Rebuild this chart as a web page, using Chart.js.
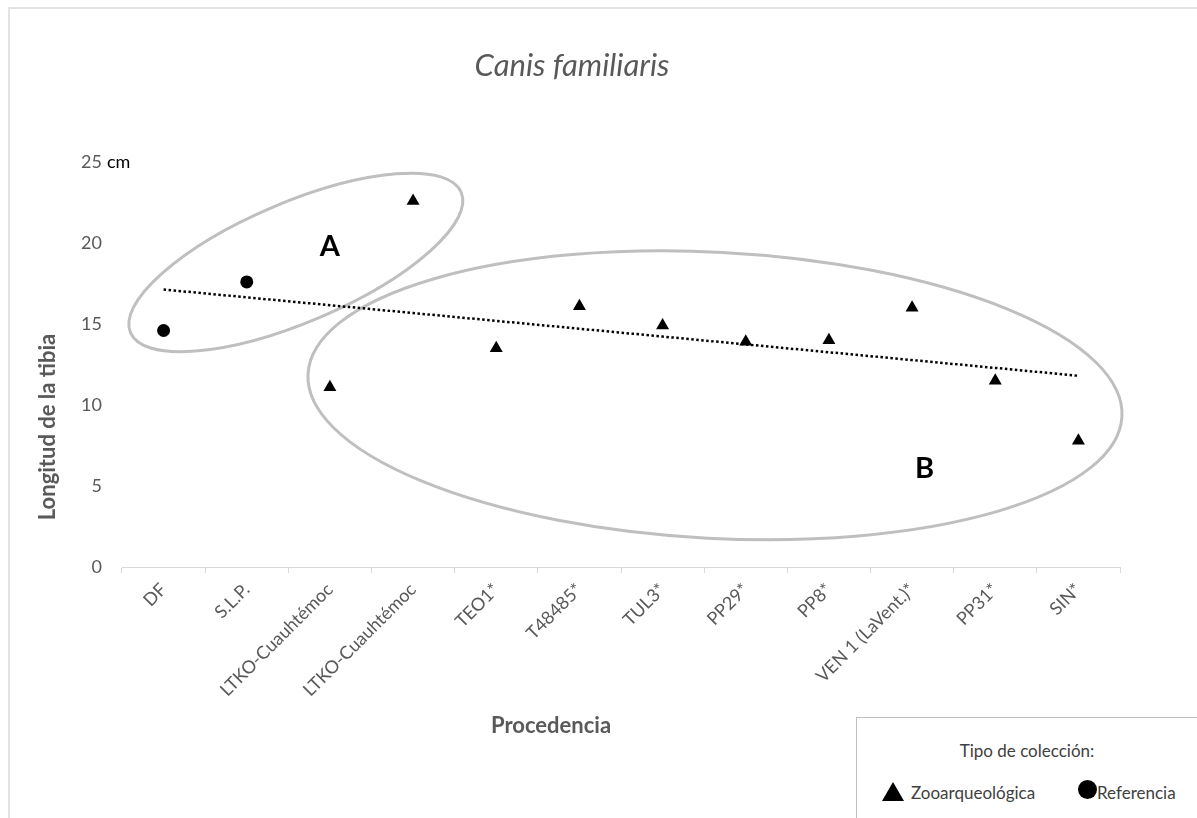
<!DOCTYPE html>
<html lang="es">
<head>
    <meta charset="UTF-8">
    <title>Canis familiaris</title>
    <script src="https://cdn.jsdelivr.net/npm/chart.js"></script>
    <style>
        html, body { margin: 0; padding: 0; background: #fff; overflow: hidden; }
        #wrap { position: relative; width: 1197px; height: 818px; font-family: Lato, "Open Sans", sans-serif; }
        #frame { position: absolute; left: 8px; top: 7px; width: 1300px; height: 900px; border: 2px solid #e3e3e3; box-sizing: border-box; }
        #chart { position: absolute; left: 0; top: 0; }
        #legend { position: absolute; left: 856px; top: 717px; width: 400px; height: 200px; border: 1.5px solid #bfbfbf; background: #fff; }
        #legend .ttl { position: absolute; left: 0; width: 340px; top: 22px; text-align: center; font-size: 17px; color: #404040; }
        #legend .item { position: absolute; top: 64px; font-size: 17px; color: #404040; }
        .tri { position: absolute; width: 0; height: 0; border-left: 11px solid transparent; border-right: 11px solid transparent; border-bottom: 19px solid #000; }
        .dot { position: absolute; width: 19px; height: 19px; border-radius: 50%; background: #000; }
    </style>
</head>
<body>
<div id="wrap">
    <div id="frame"></div>
    <canvas id="chart" width="1197" height="818"></canvas>
    <div id="legend">
        <div class="ttl">Tipo de colección:</div>
        <div class="tri" style="left:25px; top:64px;"></div>
        <div class="item" style="left:54px;">Zooarqueológica</div>
        <div class="dot" style="left:221px; top:62px;"></div>
        <div class="item" style="left:240px;">Referencia</div>
    </div>
</div>

<script>
    // categories and values (cm)
    const categories = ['DF', 'S.L.P.', 'LTKO-Cuauhtémoc', 'LTKO-Cuauhtémoc', 'TEO1*', 'T48485*', 'TUL3*', 'PP29*', 'PP8*', 'VEN 1 (LaVent.)*', 'PP31*', 'SIN*'];
    const zooarqueologica = [null, null, 11.1, 22.6, 13.5, 16.1, 14.9, 13.9, 14.0, 16.0, 11.5, 7.8];
    const referencia = [14.6, 17.6, null, null, null, null, null, null, null, null, null, null];
    const yTicks = [0, 5, 10, 15, 20, 25];

    // groups drawn as ellipses: center (category index, value), radii in category widths, angle in degrees
    const groups = [
        { label: 'A', cx: 1.59, cy: 18.8, rx: 2.16, ry: 0.72, rot: -23, lx: 2.0, ly: 19.75 },
        { label: 'B', cx: 6.63, cy: 10.6, rx: 4.9, ry: 1.72, rot: 3, lx: 9.15, ly: 6.1 }
    ];

    // linear trend over all points
    const allVals = categories.map((c, i) => zooarqueologica[i] !== null ? zooarqueologica[i] : referencia[i]);
    const n = allVals.length;
    const mx = (n - 1) / 2;
    const my = allVals.reduce((a, b) => a + b, 0) / n;
    let sxy = 0, sxx = 0;
    allVals.forEach((v, i) => { sxy += (i - mx) * (v - my); sxx += (i - mx) * (i - mx); });
    const slope = sxy / sxx;
    const trend = allVals.map((v, i) => my + slope * (i - mx));

    const grey = '#595959';
    const fontFam = 'Lato, "Open Sans", sans-serif';

    const extras = {
        id: 'extras',
        beforeDatasetsDraw(chart) {
            const { ctx, scales: { x, y } } = chart;
            const cw = x.width / categories.length;
            ctx.save();
            ctx.strokeStyle = '#bfbfbf';
            ctx.lineWidth = 3;
            groups.forEach(g => {
                ctx.beginPath();
                ctx.ellipse(x.getPixelForValue(g.cx), y.getPixelForValue(g.cy), g.rx * cw, g.ry * cw, g.rot * Math.PI / 180, 0, Math.PI * 2);
                ctx.stroke();
            });
            ctx.fillStyle = '#000';
            ctx.font = 'bold 29px ' + fontFam;
            ctx.textAlign = 'center';
            ctx.textBaseline = 'middle';
            groups.forEach(g => {
                ctx.fillText(g.label, x.getPixelForValue(g.lx), y.getPixelForValue(g.ly));
            });
            ctx.restore();
        },
        afterDraw(chart) {
            const { ctx, scales: { y } } = chart;
            ctx.save();
            // title
            ctx.fillStyle = grey;
            ctx.font = 'italic 31px ' + fontFam;
            ctx.textAlign = 'center';
            ctx.textBaseline = 'middle';
            ctx.fillText('Canis familiaris', 572, 66);
            // unit after top tick
            ctx.fillStyle = '#000';
            ctx.font = '18px ' + fontFam;
            ctx.textAlign = 'left';
            ctx.fillText('cm', 107, y.getPixelForValue(25));
            // axis titles
            ctx.fillStyle = grey;
            ctx.font = 'bold 22px ' + fontFam;
            ctx.textAlign = 'center';
            ctx.fillText('Procedencia', 551, 726);
            ctx.translate(48, 427);
            ctx.rotate(-Math.PI / 2);
            ctx.fillText('Longitud de la tibia', 0, 0);
            ctx.restore();
        }
    };

    new Chart(document.getElementById('chart'), {
        type: 'line',
        data: {
            labels: categories,
            datasets: [
                {
                    label: 'Zooarqueológica',
                    data: zooarqueologica,
                    showLine: false,
                    pointStyle: 'triangle',
                    pointRadius: 7.5,
                    backgroundColor: '#000',
                    borderColor: '#000',
                    borderWidth: 0,
                    order: 1
                },
                {
                    label: 'Referencia',
                    data: referencia,
                    showLine: false,
                    pointStyle: 'circle',
                    pointRadius: 6.5,
                    backgroundColor: '#000',
                    borderColor: '#000',
                    borderWidth: 0,
                    order: 1
                },
                {
                    label: 'Tendencia',
                    data: trend,
                    borderColor: '#000',
                    borderWidth: 2.5,
                    borderDash: [2.5, 2.5],
                    pointRadius: 0,
                    fill: false,
                    order: 2
                }
            ]
        },
        options: {
            responsive: false,
            animation: false,
            layout: { padding: { left: 0, top: 162, right: 77, bottom: 0 } },
            plugins: {
                legend: { display: false },
                title: { display: false },
                tooltip: { enabled: false }
            },
            scales: {
                x: {
                    offset: true,
                    grid: { display: true, drawOnChartArea: false, drawTicks: true, tickLength: 6, color: '#d9d9d9', offset: true },
                    border: { color: '#d9d9d9', width: 1 },
                    ticks: { minRotation: 45, maxRotation: 45, autoSkip: false, padding: 6, color: grey, font: { family: fontFam, size: 18 } },
                    afterFit(scale) { scale.height = 251; }
                },
                y: {
                    min: 0,
                    max: 25,
                    afterBuildTicks(scale) { scale.ticks = yTicks.map(v => ({ value: v })); },
                    grid: { display: false, drawTicks: false },
                    border: { display: false },
                    ticks: { padding: 20, color: grey, font: { family: fontFam, size: 18 } },
                    afterFit(scale) { scale.width = 122; }
                }
            }
        },
        plugins: [extras]
    });
</script>
</body>
</html>
